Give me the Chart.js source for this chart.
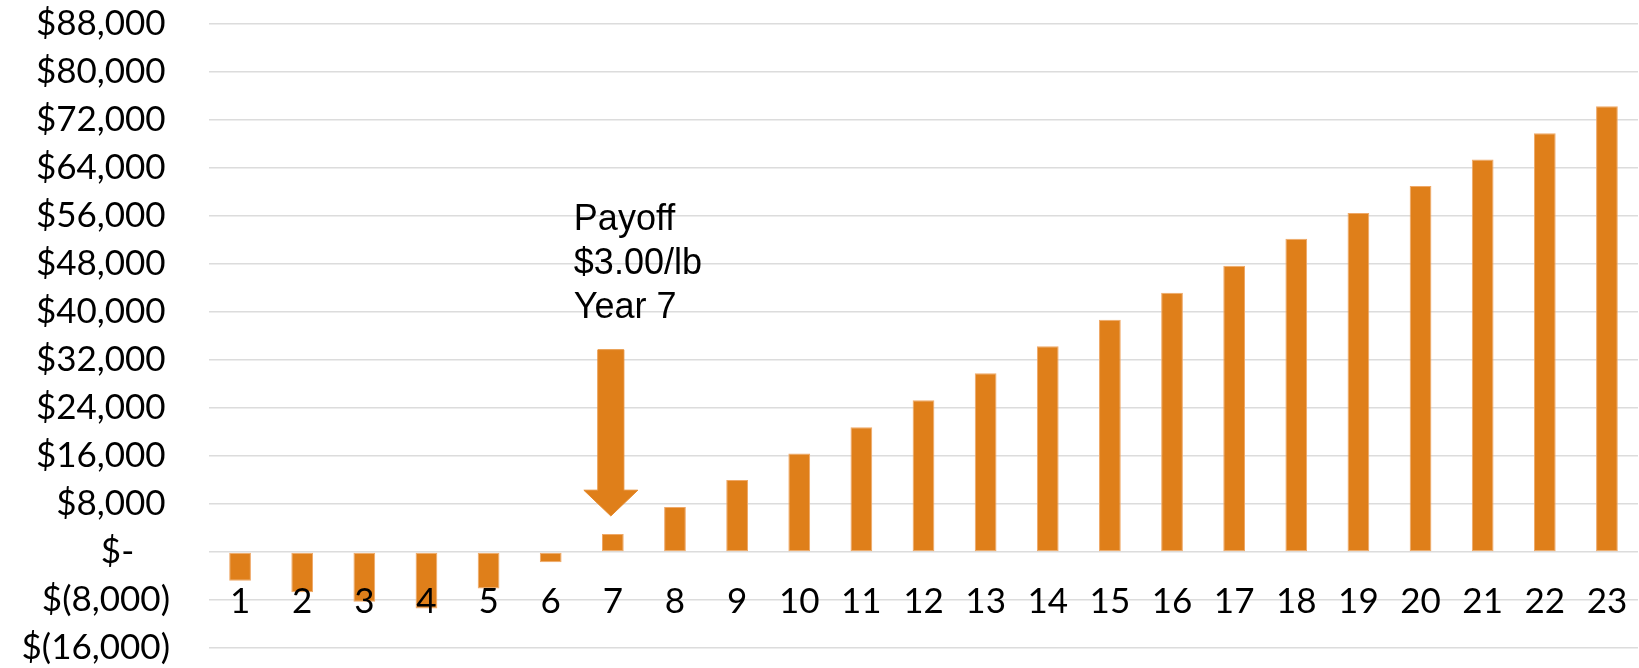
<!DOCTYPE html>
<html>
<head>
<meta charset="utf-8">
<script src="https://cdn.jsdelivr.net/npm/chart.js@4.4.1/dist/chart.umd.min.js"></script>
<style>
  html, body { margin: 0; padding: 0; background: #ffffff; }
  #wrap { width: 1639px; height: 668px; position: relative; }
</style>
</head>
<body>
<div id="wrap"><canvas id="c"></canvas></div>
<script>
// ---- Data ----
const categories = ["1","2","3","4","5","6","7","8","9","10","11","12","13","14","15","16","17","18","19","20","21","22","23"];
const cashFlow = [-4800, -6700, -8300, -9400, -6100, -1700, 3000, 7500, 12000, 16400, 20800, 25300, 29800, 34300, 38700, 43200, 47700, 52200, 56500, 61000, 65400, 69800, 74300];
const yMin = -16000;
const yMax = 88000;
const yStep = 8000;
const annotationLines = ["Payoff", "$3.00/lb", "Year 7"];
const annotationCategory = "7";
const arrowTopValue = 33700;
const arrowHeadValue = 10300;
const arrowTipValue = 6000;
const annotationTextValue = 53700;

const BAR_COLOR = "#DF7F1A";
const TICK_FONT = "Lato, 'Open Sans', sans-serif";
const TICK_SIZE = 35;

function fmtTick(v) {
  if (v === 0) return "$-    ";
  const s = Math.abs(v).toLocaleString("en-US");
  return v < 0 ? "$(" + s + ")" : "$" + s + "\u2009";
}

const xLabelsPlugin = {
  id: "xLabels",
  afterDatasetsDraw(chart) {
    const ctx = chart.ctx;
    const xs = chart.scales.x, ys = chart.scales.y;
    const base = ys.getPixelForValue(0);
    ctx.save();
    ctx.font = TICK_SIZE + "px " + TICK_FONT;
    ctx.fillStyle = "#000000";
    ctx.textAlign = "center";
    ctx.textBaseline = "alphabetic";
    categories.forEach((c, i) => {
      ctx.fillText(c, xs.getPixelForValue(i), base + 61);
    });
    ctx.restore();
  }
};

const annotationPlugin = {
  id: "payoffAnnotation",
  afterDatasetsDraw(chart) {
    const ctx = chart.ctx;
    const xs = chart.scales.x, ys = chart.scales.y;
    const idx = categories.indexOf(annotationCategory);
    const cx = xs.getPixelForValue(idx) - 2;
    const yTop = ys.getPixelForValue(arrowTopValue);
    const yHead = ys.getPixelForValue(arrowHeadValue);
    const yTip = ys.getPixelForValue(arrowTipValue);
    const shaftHalf = 13, headHalf = 27;
    ctx.save();
    ctx.beginPath();
    ctx.moveTo(cx - shaftHalf, yTop);
    ctx.lineTo(cx + shaftHalf, yTop);
    ctx.lineTo(cx + shaftHalf, yHead);
    ctx.lineTo(cx + headHalf, yHead);
    ctx.lineTo(cx, yTip);
    ctx.lineTo(cx - headHalf, yHead);
    ctx.lineTo(cx - shaftHalf, yHead);
    ctx.closePath();
    ctx.fillStyle = BAR_COLOR;
    ctx.fill();
    ctx.lineWidth = 1;
    ctx.strokeStyle = "#E58A2E";
    ctx.stroke();

    ctx.font = "36px 'Liberation Sans', Arial, sans-serif";
    ctx.fillStyle = "#000000";
    ctx.textAlign = "left";
    ctx.textBaseline = "alphabetic";
    const tx = xs.getPixelForValue(idx) - 39;
    const ty = ys.getPixelForValue(annotationTextValue);
    annotationLines.forEach((line, i) => {
      ctx.fillText(line, tx, ty + i * 44);
    });
    ctx.restore();
  }
};

new Chart(document.getElementById("c"), {
  type: "bar",
  data: {
    labels: categories,
    datasets: [{
      data: cashFlow,
      backgroundColor: BAR_COLOR,
      borderColor: "#EFA867",
      borderWidth: 1,
      borderSkipped: false,
      barPercentage: 0.35,
      categoryPercentage: 1.0
    }]
  },
  options: {
    responsive: true,
    maintainAspectRatio: false,
    animation: false,
    devicePixelRatio: 1,
    layout: { padding: { top: 24, bottom: 20, left: 0, right: 1 } },
    plugins: {
      legend: { display: false },
      tooltip: { enabled: false },
      title: { display: false }
    },
    scales: {
      x: {
        display: false,
        offset: true
      },
      y: {
        min: yMin,
        max: yMax,
        border: { display: false },
        grid: {
          color: "#dcdcdc",
          lineWidth: 1.5,
          drawTicks: true,
          tickLength: 39,
          tickColor: "rgba(0,0,0,0)"
        },
        ticks: {
          stepSize: yStep,
          padding: 0,
          color: "#000000",
          font: { family: TICK_FONT, size: TICK_SIZE, lineHeight: 1.1 },
          callback: (v) => fmtTick(v)
        },
        afterFit: (scale) => { scale.width = 209; }
      }
    }
  },
  plugins: [xLabelsPlugin, annotationPlugin]
});
</script>
</body>
</html>
